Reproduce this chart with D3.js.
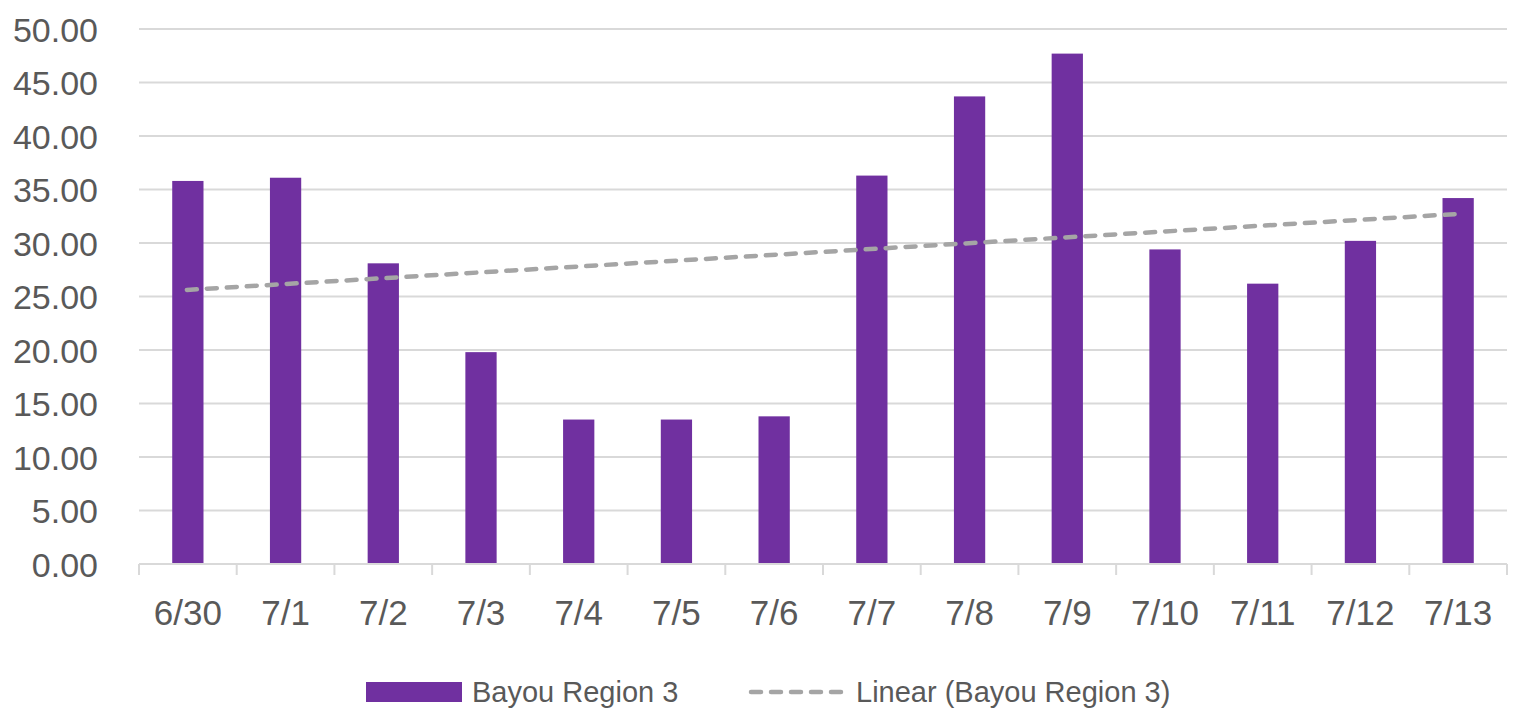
<!DOCTYPE html>
<html>
<head>
<meta charset="utf-8">
<script src="https://cdnjs.cloudflare.com/ajax/libs/d3/7.8.5/d3.min.js"></script>
<style>
  html, body { margin: 0; padding: 0; background: #fff; }
  svg { display: block; }
  text { font-family: "Liberation Sans", Arial, sans-serif; fill: #595959; }
</style>
</head>
<body>
<svg id="chart" width="1524" height="708"></svg>
<script>
// Daily values for Bayou Region 3
const dates = ["6/30", "7/1", "7/2", "7/3", "7/4", "7/5", "7/6", "7/7", "7/8", "7/9", "7/10", "7/11", "7/12", "7/13"];
const values = [35.8, 36.1, 28.1, 19.8, 13.5, 13.5, 13.8, 36.3, 43.7, 47.7, 29.4, 26.2, 30.2, 34.2];
const yTicks = [0, 5, 10, 15, 20, 25, 30, 35, 40, 45, 50];
const seriesName = "Bayou Region 3";
const trendName = "Linear (Bayou Region 3)";

const svg = d3.select("#chart");
const plot = { left: 139, right: 1507, top: 29, bottom: 564 };

const x = d3.scaleBand().domain(dates).range([plot.left, plot.right]).padding(0);
const y = d3.scaleLinear().domain([0, 50]).range([plot.bottom, plot.top]);
const barW = x.bandwidth() * 0.32;

// Horizontal gridlines
svg.append("g")
  .selectAll("line")
  .data(yTicks.filter(d => d > 0))
  .join("line")
  .attr("x1", plot.left).attr("x2", plot.right)
  .attr("y1", d => y(d)).attr("y2", d => y(d))
  .attr("stroke", "#d9d9d9").attr("stroke-width", 2);

// Y axis labels
const yAxis = d3.axisLeft(y).tickValues(yTicks).tickFormat(d3.format(".2f")).tickSize(0).tickPadding(0);
svg.append("g")
  .attr("transform", `translate(98,0)`)
  .call(yAxis)
  .call(g => g.select(".domain").remove())
  .selectAll("text")
  .attr("font-size", 34)
  .attr("font-family", "Liberation Sans, Arial, sans-serif")
  .attr("fill", "#595959")
  .attr("dy", "0.36em");

// Bars
svg.append("g")
  .selectAll("rect")
  .data(values)
  .join("rect")
  .attr("x", (d, i) => x(dates[i]) + (x.bandwidth() - barW) / 2)
  .attr("y", d => y(d))
  .attr("width", barW)
  .attr("height", d => y(0) - y(d))
  .attr("fill", "#7030a0");

// X axis with tick marks at category boundaries
const xAxisG = svg.append("g");
xAxisG.append("line")
  .attr("x1", plot.left).attr("x2", plot.right)
  .attr("y1", y(0)).attr("y2", y(0))
  .attr("stroke", "#d9d9d9").attr("stroke-width", 2);
const bounds = dates.map(d => x(d)).concat([plot.right]);
xAxisG.selectAll("line.tick")
  .data(bounds)
  .join("line")
  .attr("class", "tick")
  .attr("x1", d => d).attr("x2", d => d)
  .attr("y1", y(0)).attr("y2", y(0) + 11)
  .attr("stroke", "#d9d9d9").attr("stroke-width", 2);
xAxisG.selectAll("text")
  .data(dates)
  .join("text")
  .attr("x", d => x(d) + x.bandwidth() / 2)
  .attr("y", 625)
  .attr("text-anchor", "middle")
  .attr("font-size", 35)
  .text(d => d);

// Least-squares linear trendline
const n = values.length;
const idx = d3.range(n);
const mx = d3.mean(idx), my = d3.mean(values);
const slope = d3.sum(idx, i => (i - mx) * (values[i] - my)) / d3.sum(idx, i => (i - mx) ** 2);
const intercept = my - slope * mx;
const cx = i => x(dates[i]) + x.bandwidth() / 2;
svg.append("line")
  .attr("x1", cx(0) - 1).attr("y1", y(intercept))
  .attr("x2", cx(n - 1)).attr("y2", y(intercept + slope * (n - 1)))
  .attr("stroke", "#a5a5a5")
  .attr("stroke-width", 4.5)
  .attr("stroke-dasharray", "10,10")
  .attr("stroke-linecap", "round");

// Legend
const legend = svg.append("g");
legend.append("rect")
  .attr("x", 366).attr("y", 682).attr("width", 96).attr("height", 20)
  .attr("fill", "#7030a0");
legend.append("text")
  .attr("x", 472).attr("y", 692).attr("dy", "0.36em")
  .attr("font-size", 29).text(seriesName);
legend.append("line")
  .attr("x1", 751).attr("x2", 844).attr("y1", 692).attr("y2", 692)
  .attr("stroke", "#a5a5a5").attr("stroke-width", 4.5)
  .attr("stroke-dasharray", "10,10")
  .attr("stroke-linecap", "round");
legend.append("text")
  .attr("x", 856).attr("y", 692).attr("dy", "0.36em")
  .attr("font-size", 29).text(trendName);
</script>
</body>
</html>
